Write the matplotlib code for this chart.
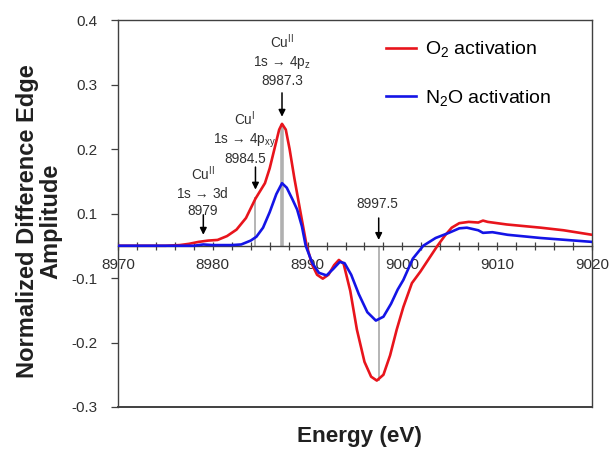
import matplotlib
matplotlib.use("Agg")
import matplotlib.pyplot as plt

plt.rcParams['font.family'] = ['Liberation Sans', 'DejaVu Sans']
plt.rcParams['mathtext.fontset'] = 'custom'
plt.rcParams['mathtext.rm'] = 'Liberation Sans'
plt.rcParams['mathtext.it'] = 'Liberation Sans:italic'
plt.rcParams['mathtext.bf'] = 'Liberation Sans:bold'

# O2 activated difference spectrum
o2_energy = [8970, 8975, 8976.5, 8977.5, 8978.5, 8979.5, 8980.5, 8981.5, 8982.5,
             8983.5, 8984.5, 8985, 8985.5, 8986, 8986.5, 8987, 8987.3, 8987.7,
             8988.1, 8988.6, 8989.2, 8989.9, 8990.5, 8991, 8991.6, 8992.2, 8992.8,
             8993.3, 8993.8, 8994.5, 8995.2, 8996, 8996.7, 8997.3, 8998, 8998.7,
             8999.4, 9000.1, 9001, 9001.9, 9002.8, 9003.7, 9004.5, 9005.2, 9006,
             9007, 9008, 9008.5, 9009, 9011, 9014.6, 9017, 9020]
o2_amp = [0.0, 0.0, 0.001, 0.003, 0.006, 0.008, 0.009, 0.015, 0.025,
          0.043, 0.073, 0.085, 0.097, 0.120, 0.150, 0.180, 0.189, 0.180,
          0.150, 0.105, 0.056, 0.0, -0.030, -0.045, -0.051, -0.045, -0.030,
          -0.022, -0.028, -0.070, -0.130, -0.180, -0.203, -0.209, -0.200, -0.170,
          -0.130, -0.095, -0.058, -0.040, -0.020, 0.0, 0.016, 0.028, 0.035,
          0.037, 0.036, 0.039, 0.037, 0.033, 0.028, 0.024, 0.017]

# N2O activated difference spectrum
n2o_energy = [8970, 8978, 8979, 8980, 8982, 8983, 8984, 8984.6, 8985.3, 8986,
              8986.7, 8987.3, 8987.8, 8988.4, 8988.9, 8989.4, 8989.8, 8990.5,
              8991.2, 8992, 8992.7, 8993.4, 8993.9, 8994.6, 8995.4, 8996.3,
              8997.2, 8998, 8998.8, 8999.5, 9000.1, 9001.1, 9002.2, 9003.5,
              9004.9, 9006, 9006.8, 9008, 9008.5, 9009.5, 9011.1, 9014.6, 9020]
n2o_amp = [0.0, 0.0, 0.002, 0.001, 0.001, 0.002, 0.008, 0.014, 0.028, 0.052,
           0.080, 0.097, 0.090, 0.072, 0.056, 0.030, 0.0, -0.027,
           -0.042, -0.046, -0.036, -0.025, -0.027, -0.045, -0.075, -0.103,
           -0.116, -0.110, -0.090, -0.068, -0.053, -0.020, 0.0, 0.012,
           0.020, 0.027, 0.028, 0.024, 0.020, 0.021, 0.017, 0.012, 0.006]

# y tick labels as printed on the original (no label at the zero line)
ytick_pos = [-0.25, -0.15, -0.05, 0.05, 0.15, 0.25, 0.35]
ytick_labels = ['-0.3', '-0.2', '-0.1', '0.1', '0.2', '0.3', '0.4']

ARROW = ' $\\!\\rightarrow\\!$ '
# transitions: (energy, label, label x, label y, arrow tail, arrow tip)
marks = [
    (8979.0, 'Cu$^{\\mathrm{II}}$\n1s' + ARROW + '3d\n8979', 8978.95, 0.084, 0.048, 0.017),
    (8984.5, 'Cu$^{\\mathrm{I}}$\n1s' + ARROW + '4p$_{\\mathrm{xy}}$\n8984.5', 8983.4, 0.167, 0.122, 0.087),
    (8987.3, 'Cu$^{\\mathrm{II}}$\n1s' + ARROW + '4p$_{\\mathrm{z}}$\n8987.3', 8987.3, 0.288, 0.237, 0.200),
    (8997.5, '8997.5', 8997.4, 0.064, 0.043, 0.009),
]

fig = plt.figure(figsize=(6.11, 4.5), dpi=100)
ax = fig.add_axes([118 / 611, 43 / 450, 474 / 611, 387 / 450])

# grey guide lines
ax.vlines(8984.5, 0, 0.075, color='#a8a8a8', lw=1.2, zorder=1)
ax.vlines(8987.3, 0, 0.189, color='#b0b0b0', lw=2.6, zorder=1)
ax.vlines(8997.5, -0.209, 0, color='#a8a8a8', lw=1.2, zorder=1)

ax.plot(o2_energy, o2_amp, color='#e8141c', lw=1.9, label='O$_2$ activation', zorder=3)
ax.plot(n2o_energy, n2o_amp, color='#1414e6', lw=1.9, label='N$_2$O activation', zorder=4)

for e, txt, tx, ty, a0, a1 in marks:
    ax.text(tx, ty, txt, ha='center', va='center', fontsize=9.8, color='#303030',
            linespacing=1.25)
    ax.annotate('', xy=(e, a1), xytext=(e, a0),
                arrowprops=dict(arrowstyle='-|>', color='black', lw=1.1,
                                mutation_scale=10, shrinkA=0, shrinkB=0))

ax.set_xlim(8970, 9020)
ax.set_ylim(-0.25, 0.35)

ax.spines['bottom'].set_position(('data', 0))
for s in ['top', 'right', 'left', 'bottom']:
    ax.spines[s].set_color('#404040')
    ax.spines[s].set_linewidth(1.0)
ax.plot([0, 1], [0, 0], transform=ax.transAxes, color='#404040', lw=1.4, clip_on=False)

ax.set_xticks(range(8970, 9021, 10))
ax.set_xticks(range(8970, 9021, 2), minor=True)
ax.tick_params(axis='x', which='both', direction='inout', length=6, width=0.9,
               colors='#404040', labelsize=11, pad=6)
ax.tick_params(axis='x', labelcolor='#303030')
ax.set_yticks(ytick_pos)
ax.set_yticklabels(ytick_labels)
ax.tick_params(axis='y', direction='out', length=5, width=0.9, colors='#404040',
               labelsize=11, pad=10, labelcolor='#303030')

ax.set_xlabel('Energy (eV)', fontsize=16.2, fontweight='bold', color='#202020')
ax.xaxis.set_label_coords(0.509, -0.050)
ax.set_ylabel('Normalized Difference Edge\nAmplitude', fontsize=17,
              fontweight='bold', color='#202020', linespacing=1.0)
ax.yaxis.set_label_coords(-0.118, 0.48)

ax.legend(loc='upper left', bbox_to_anchor=(0.565, 0.95), frameon=False,
          fontsize=14, handlelength=1.55, handletextpad=0.45, labelspacing=1.45,
          borderpad=0, borderaxespad=0)

fig.savefig('out.png', dpi=100)
